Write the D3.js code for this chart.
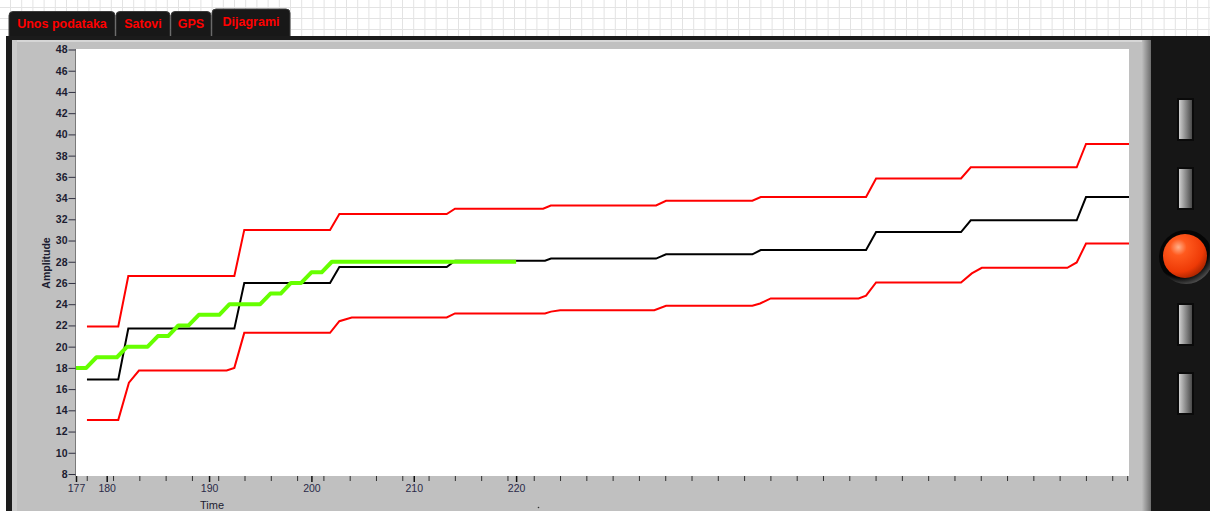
<!DOCTYPE html>
<meta charset="utf-8" />
<script src="https://d3js.org/d3.v7.min.js"></script>
<style>
  body { margin: 0; background: #fff; overflow: hidden; }
  svg { display: block; font-family: "Liberation Sans", Arial, sans-serif; }
</style>
<div id="chart"></div>
<script>
  // tabs on top of the front panel
  const tabNames = ["Unos podataka", "Satovi", "GPS", "Dijagrami"];
  const activeTab = "Dijagrami";

  // axis ticks
  const yTickValues = [8, 10, 12, 14, 16, 18, 20, 22, 24, 26, 28, 30, 32, 34, 36, 38, 40, 42, 44, 46, 48];
  const xTickLabels = [177, 180, 190, 200, 210, 220];

  // green trace: one sample per time unit, starting at 177
  const greenStart = 177;
  const greenValues = [18, 18, 19, 19, 19, 20, 20, 20, 21, 21, 22, 22, 23, 23, 23, 24, 24, 24, 24, 25, 25,
    26, 26, 27, 27, 28, 28, 28, 28, 28, 28, 28, 28, 28, 28, 28, 28, 28, 28, 28, 28, 28, 28, 28];

  // black trace [time, amplitude]
  const blackPts = [[178.07, 16.9], [181.13, 16.9], [182.11, 21.7], [192.47, 21.7], [193.44, 26.0], [201.82, 26.0],
    [202.73, 27.5], [213.22, 27.5], [214.03, 28.1], [222.82, 28.1], [223.41, 28.3], [233.67, 28.3],
    [234.65, 28.7], [243.08, 28.7], [243.9, 29.1], [254.19, 29.1], [255.17, 30.8], [263.47, 30.8],
    [264.42, 31.9], [274.77, 31.9], [275.68, 34.1], [279.9, 34.1]];

  // upper red limit
  const upperPts = [[178.07, 21.9], [181.13, 21.9], [182.11, 26.65], [192.47, 26.65], [193.44, 31.0], [201.82, 31.0],
    [202.73, 32.5], [213.22, 32.5], [214.03, 33.0], [222.64, 33.0], [223.39, 33.3], [233.67, 33.3],
    [234.65, 33.75], [243.08, 33.75], [243.9, 34.1], [254.19, 34.1], [255.17, 35.85], [263.47, 35.85],
    [264.42, 36.9], [274.77, 36.9], [275.68, 39.1], [279.9, 39.1]];

  // lower red limit
  const lowerPts = [[178.07, 13.1], [181.13, 13.1], [182.17, 16.6], [183.15, 17.75], [191.72, 17.75], [192.47, 18.0],
    [193.44, 21.3], [201.82, 21.3], [202.73, 22.4], [203.94, 22.75], [213.22, 22.75], [214.03, 23.13],
    [222.82, 23.13], [223.41, 23.3], [224.3, 23.44], [233.5, 23.44], [234.65, 23.85], [243.08, 23.85],
    [243.84, 24.07], [244.88, 24.54], [253.46, 24.54], [254.19, 24.8], [255.17, 26.05], [263.47, 26.05],
    [264.52, 26.9], [265.5, 27.43], [273.85, 27.43], [274.77, 27.93], [275.68, 29.72], [279.9, 29.72]];

  const W = 1210, H = 511;
  const plot = { left: 76, right: 1129, top: 49, bottom: 476 };

  const svg = d3.select("#chart").append("svg")
    .attr("width", W).attr("height", H);
  const defs = svg.append("defs");

  // background grid at the top
  const grid = svg.append("g").attr("stroke", "#e3e3e3").attr("stroke-width", 1);
  for (let gx = 10.5; gx < W; gx += 11.2) {
    grid.append("line").attr("x1", gx).attr("x2", gx).attr("y1", 0).attr("y2", 36);
  }
  [7.5, 18.5, 29.5].forEach(gy => grid.append("line").attr("x1", 0).attr("x2", W).attr("y1", gy).attr("y2", gy));

  // tabs
  const tabBox = [[9, 115], [116, 170], [171, 211], [212, 290]];
  const tabs = svg.append("g");
  tabNames.forEach((name, i) => {
    const [x0, x1] = tabBox[i];
    const top = name === activeTab ? 9 : 11.5;
    const r = 4;
    tabs.append("path")
      .attr("d", `M${x0},37 V${top + r} Q${x0},${top} ${x0 + r},${top} H${x1 - r} Q${x1},${top} ${x1},${top + r} V37 Z`)
      .attr("fill", "#181818").attr("stroke", "#3c3c3c").attr("stroke-width", 1);
    tabs.append("text")
      .attr("x", (x0 + x1) / 2).attr("y", name === activeTab ? 26 : 28)
      .attr("text-anchor", "middle")
      .attr("fill", "#ff0000").attr("font-weight", "bold").attr("font-size", "12.5px")
      .text(name);
  });

  // dark frame, gray panel, right strip
  svg.append("rect").attr("x", 6).attr("y", 36).attr("width", W - 6).attr("height", H - 36).attr("fill", "#1b1b1b");
  const panelGrad = defs.append("linearGradient").attr("id", "panelGrad");
  panelGrad.append("stop").attr("offset", "0%").attr("stop-color", "#c0c0c0");
  panelGrad.append("stop").attr("offset", "99.2%").attr("stop-color", "#bdbdbd");
  panelGrad.append("stop").attr("offset", "100%").attr("stop-color", "#7a7a7a");
  svg.append("rect").attr("x", 12).attr("y", 40).attr("width", 1139).attr("height", H - 40).attr("fill", "#c0c0c0");
  const edgeGrad = defs.append("linearGradient").attr("id", "edgeGrad");
  edgeGrad.append("stop").attr("offset", "0%").attr("stop-color", "#bebebe");
  edgeGrad.append("stop").attr("offset", "100%").attr("stop-color", "#6e6e6e");
  svg.append("rect").attr("x", 1142).attr("y", 40).attr("width", 9).attr("height", H - 40).attr("fill", "url(#edgeGrad)");
  svg.append("rect").attr("x", 12).attr("y", 40).attr("width", 1130).attr("height", 2).attr("fill", "#d6d6d6");
  svg.append("rect").attr("x", 12).attr("y", 40).attr("width", 5).attr("height", H - 40).attr("fill", "#cbcbcb");
  svg.append("rect").attr("x", 1151).attr("y", 36).attr("width", W - 1151).attr("height", H - 36).attr("fill", "#161616");

  // side buttons
  const btnGrad = defs.append("linearGradient").attr("id", "btnGrad");
  btnGrad.append("stop").attr("offset", "0%").attr("stop-color", "#d0d0d0");
  btnGrad.append("stop").attr("offset", "40%").attr("stop-color", "#9a9a9a");
  btnGrad.append("stop").attr("offset", "100%").attr("stop-color", "#4a4a4a");
  [98, 167, 303, 372].forEach(by => {
    svg.append("rect").attr("x", 1177).attr("y", by).attr("width", 17).attr("height", 43)
      .attr("fill", "#0a0a0a");
    svg.append("rect").attr("x", 1179).attr("y", by + 2).attr("width", 13).attr("height", 39)
      .attr("fill", "url(#btnGrad)");
  });
  const ringGrad = defs.append("radialGradient").attr("id", "ringGrad").attr("cx", "40%").attr("cy", "35%").attr("r", "70%");
  ringGrad.append("stop").attr("offset", "75%").attr("stop-color", "#050505");
  ringGrad.append("stop").attr("offset", "100%").attr("stop-color", "#5a5a5a");
  svg.append("circle").attr("cx", 1186).attr("cy", 257).attr("r", 27).attr("fill", "url(#ringGrad)");
  const ballGrad = defs.append("radialGradient").attr("id", "ballGrad").attr("cx", "35%").attr("cy", "30%").attr("r", "75%");
  ballGrad.append("stop").attr("offset", "0%").attr("stop-color", "#ffb08a");
  ballGrad.append("stop").attr("offset", "25%").attr("stop-color", "#ff5a1e");
  ballGrad.append("stop").attr("offset", "75%").attr("stop-color", "#ee3a06");
  ballGrad.append("stop").attr("offset", "100%").attr("stop-color", "#a82400");
  svg.append("circle").attr("cx", 1185).attr("cy", 256).attr("r", 22).attr("fill", "url(#ballGrad)");

  // plot area
  svg.append("rect").attr("x", plot.left).attr("y", plot.top)
    .attr("width", plot.right - plot.left).attr("height", plot.bottom - plot.top).attr("fill", "#fff");

  const x = d3.scaleLinear().domain([177, 279.88]).range([plot.left, plot.right]);
  const y = d3.scaleLinear().domain([8, 48]).range([474, 49.5]);

  // Y axis
  const yAxis = svg.append("g").attr("transform", `translate(${plot.left - 0.5},0)`)
    .call(d3.axisLeft(y).tickValues(yTickValues).tickSize(7).tickPadding(1).tickSizeOuter(0));
  yAxis.select(".domain").attr("stroke", "#7a7a7a").attr("d", `M0,${plot.top}V${plot.bottom}`);
  yAxis.selectAll(".tick line").attr("stroke", "#303040");
  yAxis.selectAll(".tick text").attr("fill", "#1c1c30").attr("font-weight", "bold")
    .attr("font-size", "10.5px").attr("font-family", "Liberation Sans, Arial, sans-serif");

  // X axis: minor ticks then labelled ticks
  const minorTicks = d3.range(40).map(k => 178.05 + k * 2.569).concat([279.7]);
  const xMinor = svg.append("g").attr("transform", `translate(0,${plot.bottom})`)
    .call(d3.axisBottom(x).tickValues(minorTicks).tickSize(5).tickFormat(""));
  xMinor.select(".domain").remove();
  xMinor.selectAll(".tick line").attr("stroke", "#303030");

  const xAxis = svg.append("g").attr("transform", `translate(0,${plot.bottom})`)
    .call(d3.axisBottom(x).tickValues(xTickLabels).tickSize(6).tickPadding(3));
  xAxis.select(".domain").remove();
  xAxis.selectAll(".tick line").attr("stroke", "#101010").attr("stroke-width", 1.5);
  xAxis.selectAll(".tick text").attr("fill", "#2a2a48")
    .attr("font-size", "10.5px").attr("font-family", "Liberation Sans, Arial, sans-serif");

  // axis titles
  svg.append("text").attr("x", 212).attr("y", 509).attr("text-anchor", "middle")
    .attr("font-size", "11px").attr("fill", "#1c1c30").text("Time");
  svg.append("text").attr("transform", "translate(50,263) rotate(-90)").attr("text-anchor", "middle")
    .attr("font-size", "10.5px").attr("font-weight", "bold").attr("fill", "#1c1c30").text("Amplitude");
  svg.append("circle").attr("cx", 538.5).attr("cy", 507.5).attr("r", 0.8).attr("fill", "#333");

  // traces
  defs.append("clipPath").attr("id", "plotClip").append("rect")
    .attr("x", plot.left).attr("y", plot.top)
    .attr("width", plot.right - plot.left).attr("height", plot.bottom - plot.top);
  const traces = svg.append("g").attr("clip-path", "url(#plotClip)");
  const line = d3.line().x(d => x(d[0])).y(d => y(d[1]));

  traces.append("path").datum(upperPts).attr("d", line)
    .attr("fill", "none").attr("stroke", "#ff0000").attr("stroke-width", 2);
  traces.append("path").datum(lowerPts).attr("d", line)
    .attr("fill", "none").attr("stroke", "#ff0000").attr("stroke-width", 2);
  traces.append("path").datum(blackPts).attr("d", line)
    .attr("fill", "none").attr("stroke", "#000").attr("stroke-width", 2);
  traces.append("path").datum(greenValues.map((v, i) => [greenStart + i, v])).attr("d", line)
    .attr("fill", "none").attr("stroke", "#66ff00").attr("stroke-width", 4).attr("stroke-linejoin", "round");
</script>
